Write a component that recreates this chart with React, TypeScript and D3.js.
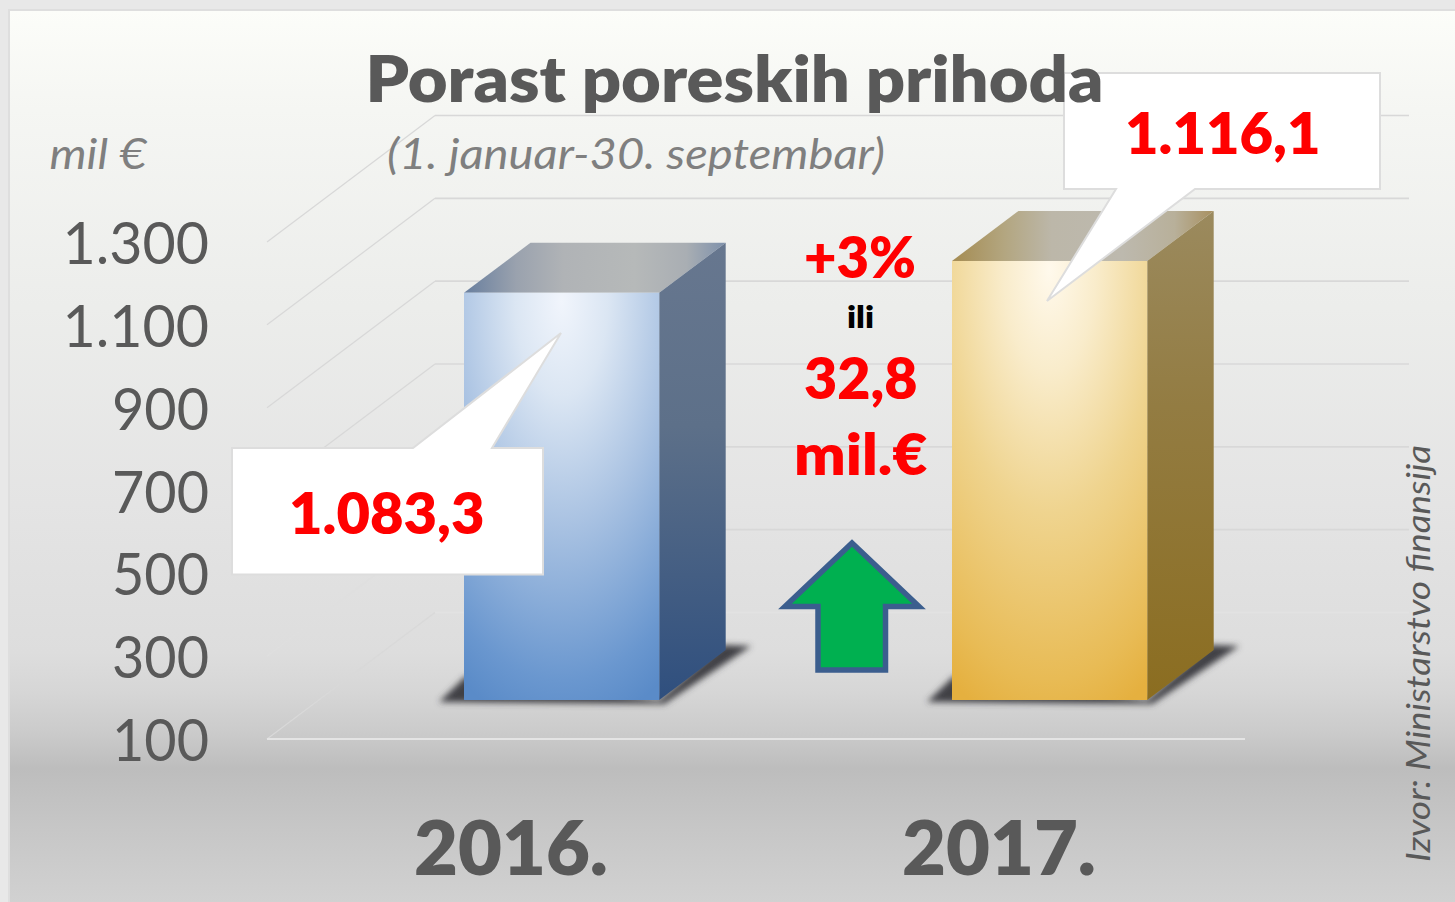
import React from "react";
import * as d3 from "d3";

const categories = ["2016.", "2017."];
// Heights the bars are drawn to (the picture's 2017 bar stands above its label).
const drawnValues = [1083.3, 1160];
const calloutLabels = ["1.083,3", "1.116,1"];
const tickValues = [100, 300, 500, 700, 900, 1100, 1300];
const tickLabels = ["100", "300", "500", "700", "900", "1.100", "1.300"];

const W = 1455;
const H = 902;
const FONT = "Lato, Carlito, 'Open Sans', sans-serif";
const GREY = "#595959";
const RED = "#ff0000";
const HEAVY = 800;

const yAxis = d3.scaleLinear().domain([100, 1300]).range([739, 242]);
const xBand = d3.scaleBand<string>().domain(categories).range([317.6, 1293.6]).paddingInner(0.6).paddingOuter(0.3);

const WALL_DX = 168;
const WALL_DY = 126.5;
const BAR_FRONT_LIFT = 39;
const BAR_DX = 66.5;
const BAR_DY = 50;
const line = d3.line<[number, number]>().curve(d3.curveLinearClosed);
const open = d3.line<[number, number]>();

const bgStops: [number, string][] = [
  [0, "#fcfdf9"], [100, "#f5f6f3"], [300, "#ecedeb"], [500, "#e4e4e4"], [650, "#dddddd"],
  [690, "#d6d6d6"], [730, "#cbcbcb"], [767, "#bdbdbd"], [830, "#c7c7c7"], [902, "#d1d1d1"],
];
const palettes = [
  {
    id: "blue",
    front: ["#f1f5fc", "#dbe6f3", "#a9c2e2", "#6a97cf", "#5a8bc8"],
    side: ["#67778f", "#5d7089", "#2f4f7e"],
    top: ["#6d82a0", "#9aa2ae", "#b0b3b6", "#b6b9b9", "#a9aeb3", "#7e91ab"],
  },
  {
    id: "gold",
    front: ["#fff9ec", "#f9eccb", "#efd48f", "#e8bb55", "#e5b03f"],
    side: ["#9b8a5e", "#937c42", "#8b6d20"],
    top: ["#a68e56", "#b3a680", "#bcb7a9", "#bdb9ae", "#b8b09a", "#a89060"],
  },
];

function T({ x, y, w, size, weight = 400, italic = false, fill = GREY, anchor = "start", rotate, children }: any) {
  return (
    <text
      x={x}
      y={y}
      fontFamily={FONT}
      fontSize={size}
      fontWeight={weight}
      fontStyle={italic ? "italic" : "normal"}
      fill={fill}
      textAnchor={anchor}
      textLength={w}
      lengthAdjust="spacingAndGlyphs"
      transform={rotate ? `rotate(${rotate} ${x} ${y})` : undefined}
    >
      {children}
    </text>
  );
}

function Callout({ rect, base, tip, label, tx, ty }: any) {
  const [x0, y0, x1, y1] = rect;
  const topSide = base[2] === y0;
  const pts: [number, number][] = topSide
    ? [[x0, y0], [base[0], y0], tip, [base[1], y0], [x1, y0], [x1, y1], [x0, y1]]
    : [[x0, y0], [x1, y0], [x1, y1], [base[1], y1], tip, [base[0], y1], [x0, y1]];
  return (
    <g>
      <path d={line(pts) as string} fill="#ffffff" stroke="#dddddd" strokeWidth={2} />
      <T x={tx} y={ty} w={195.5} size={57} weight={HEAVY} fill={RED}>{label}</T>
    </g>
  );
}

export default function App() {
  return (
    <svg width={W} height={H} viewBox={`0 0 ${W} ${H}`} style={{ position: "absolute", left: 0, top: 0, display: "block" }}>
      <defs>
        <linearGradient id="bg" gradientUnits="userSpaceOnUse" x1={0} y1={10} x2={0} y2={H}>
          {bgStops.map(([y, c]) => <stop key={y} offset={y / H} stopColor={c} />)}
        </linearGradient>
        {palettes.map((p) => (
          <React.Fragment key={p.id}>
            <radialGradient id={`front-${p.id}`} cx={0.5} cy={0} r={1.08} fx={0.5} fy={0.02}>
              {[0, 0.22, 0.52, 0.88, 1].map((o, i) => <stop key={o} offset={o} stopColor={p.front[i]} />)}
            </radialGradient>
            <linearGradient id={`side-${p.id}`} x1={0} y1={0} x2={0} y2={1}>
              {[0, 0.4, 1].map((o, i) => <stop key={o} offset={o} stopColor={p.side[i]} />)}
            </linearGradient>
            <linearGradient id={`top-${p.id}`} x1={0} y1={0.5} x2={1} y2={0.5}>
              {[0.02, 0.2, 0.38, 0.65, 0.85, 1].map((o, i) => <stop key={o} offset={o} stopColor={p.top[i]} />)}
            </linearGradient>
          </React.Fragment>
        ))}
        <filter id="shadow" x="-20%" y="-50%" width="140%" height="200%">
          <feGaussianBlur stdDeviation={3.2} />
        </filter>
      </defs>

      <rect width={W} height={H} fill="#e8e8e8" />
      <rect x={9} y={10} width={W} height={H} fill="url(#bg)" stroke="#dedede" strokeWidth={2} />

      {/* side and back-wall grid */}
      {tickValues.map((v, i) => {
        const y = yAxis(v);
        const diag = i === 0 ? "#d9d9d9" : i === 1 ? "#dfdfdf" : "#d8d8d8";
        const wall = i === 0 ? "#e2e2e2" : "#d8d8d8";
        return (
          <g key={v} fill="none">
            <path d={open([[267, y], [267 + WALL_DX, y - WALL_DY]]) as string} stroke={diag} strokeWidth={1.2} />
            <path d={open([[267 + WALL_DX, y - WALL_DY], [1409, y - WALL_DY]]) as string} stroke={wall} strokeWidth={1.6} />
          </g>
        );
      })}
      <path d={open([[267, yAxis(100)], [1245, yAxis(100)]]) as string} stroke="#e4e4e4" strokeWidth={2} fill="none" />

      {/* bars */}
      {categories.map((c, i) => {
        const x0 = xBand(c) as number;
        const x1 = x0 + xBand.bandwidth();
        const yb = yAxis(100) - BAR_FRONT_LIFT;
        const yt = yAxis(drawnValues[i]) - BAR_FRONT_LIFT;
        const id = palettes[i].id;
        const shadow: [number, number][] = [
          [x0 + 2, yb - 24], [x0 - 25, yb + 2], [x1 + 5, yb + 4], [x1 + 92, yb - 54], [x1 + 64, yb - 55], [x1, yb],
        ];
        return (
          <g key={c}>
            <path d={line(shadow) as string} fill="#3f3f44" filter="url(#shadow)" />
            <path d={line([[x0, yt], [x0 + BAR_DX, yt - BAR_DY], [x1 + BAR_DX, yt - BAR_DY], [x1, yt]]) as string} fill={`url(#top-${id})`} />
            <path d={line([[x1, yt], [x1 + BAR_DX, yt - BAR_DY], [x1 + BAR_DX, yb - BAR_DY], [x1, yb]]) as string} fill={`url(#side-${id})`} />
            <rect x={x0} y={yt} width={xBand.bandwidth()} height={yb - yt} fill={`url(#front-${id})`} />
          </g>
        );
      })}

      {/* up arrow */}
      <path
        d={line([[852, 543], [785, 606.5], [818, 606.5], [818, 670], [885.5, 670], [885.5, 606.5], [919, 606.5]]) as string}
        fill="#00b050"
        stroke="#3b5e8e"
        strokeWidth={5.5}
        strokeMiterlimit={6}
      />

      {/* callouts */}
      <Callout rect={[232, 448, 543, 574.5]} base={[413, 492, 448]} tip={[561, 333]} label={calloutLabels[0]} tx={289} ty={533.5} />
      <Callout rect={[1064, 73, 1380, 189]} base={[1116, 1195, 189]} tip={[1047, 301]} label={calloutLabels[1]} tx={1125} ty={153.5} />

      {/* texts */}
      <T x={365.5} y={101.5} w={738} size={65} weight={HEAVY}>Porast poreskih prihoda</T>
      <T x={387} y={169} w={498} size={43} italic fill="#7f7f7f">(1. januar-30. septembar)</T>
      <T x={49.5} y={169} w={97} size={43} italic fill="#7f7f7f">mil €</T>

      {tickValues.map((v, i) => (
        <T key={v} x={209} y={yAxis(v) + 22} w={v > 1000 ? 146.5 : 97} size={58} anchor="end">{tickLabels[i]}</T>
      ))}

      {categories.map((c) => (
        <T key={c} x={(xBand(c) as number) - 50} y={875} w={194} size={76} weight={HEAVY}>{c}</T>
      ))}

      <T x={804} y={277.5} w={112} size={56} weight={HEAVY} fill={RED}>+3%</T>
      <T x={847} y={328} w={27} size={31} weight={HEAVY} fill="#000000">ili</T>
      <T x={804} y={399} w={113.5} size={56} weight={HEAVY} fill={RED}>32,8</T>
      <T x={794} y={475} w={133.5} size={56} weight={HEAVY} fill={RED}>mil.€</T>

      <T x={1430} y={862} w={417} size={33} italic fill={GREY} rotate={-90}>Izvor: Ministarstvo finansija</T>
    </svg>
  );
}
